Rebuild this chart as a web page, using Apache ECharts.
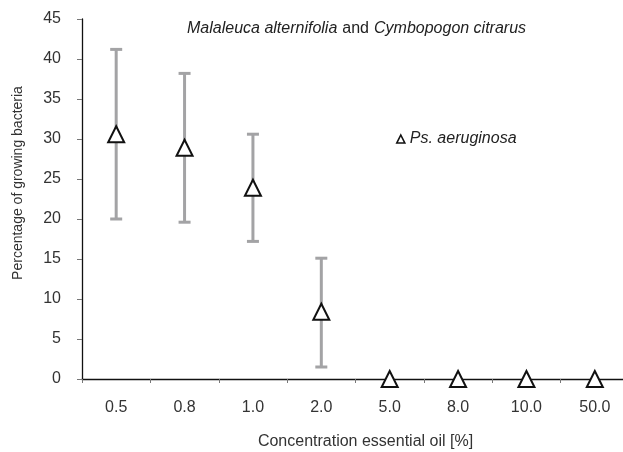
<!DOCTYPE html>
<html>
<head>
<meta charset="utf-8">
<style>html,body{margin:0;padding:0;background:#fff;}#chart{width:623px;height:452px;}</style>
<script src="https://cdn.jsdelivr.net/npm/echarts@6/dist/echarts.min.js"></script>
</head>
<body>
<div id="chart"></div>
<script>
var categories = ['0.5', '0.8', '1.0', '2.0', '5.0', '8.0', '10.0', '50.0'];
var values = [30.6, 28.9, 23.9, 8.4, 0, 0, 0, 0];
var errUpper = [41.2, 38.2, 30.6, 15.1, null, null, null, null];
var errLower = [20.0, 19.6, 17.2, 1.5, null, null, null, null];
var yTicks = [0, 5, 10, 15, 20, 25, 30, 35, 40, 45];

var errData = [];
for (var i = 0; i < categories.length; i++) {
  if (errUpper[i] != null) errData.push([i, errLower[i], errUpper[i]]);
}

var chart = echarts.init(document.getElementById('chart'), null, {renderer: 'canvas'});
var FONT = 'Liberation Sans, Arial, sans-serif';
chart.setOption({
  animation: false,
  backgroundColor: '#fff',
  textStyle: {fontFamily: FONT},
  grid: {left: 82, right: -6, top: 19, bottom: 73, containLabel: false, outerBoundsMode: 'none'},
  title: {
    text: '{i|Malaleuca alternifolia} {n|and} {i|Cymbopogon citrarus}',
    left: 182, top: 15,
    textStyle: {
      fontWeight: 'normal',
      rich: {
        i: {fontStyle: 'italic', fontWeight: 'normal', fontSize: 16, color: '#222', fontFamily: FONT},
        n: {fontWeight: 'normal', fontSize: 16, color: '#222', fontFamily: FONT}
      }
    }
  },
  legend: {
    left: 391, top: 126,
    itemWidth: 8, itemHeight: 8, itemGap: 8,
    icon: 'triangle',
    data: [{name: 'Ps. aeruginosa', itemStyle: {color: '#fff', borderColor: '#111', borderWidth: 1.6}}],
    textStyle: {fontStyle: 'italic', fontSize: 16, color: '#222', fontFamily: FONT}
  },
  xAxis: {
    type: 'category',
    data: categories,
    boundaryGap: true,
    name: 'Concentration essential oil [%]',
    nameLocation: 'middle',
    nameGap: 55,
    nameMoveOverlap: false,
    nameTextStyle: {fontSize: 16, color: '#333', fontFamily: FONT, padding: [0, 0, 0, 20]},
    axisLine: {lineStyle: {color: '#111', width: 1.3}},
    axisTick: {show: true, inside: false, length: 4, lineStyle: {color: '#777'}},
    axisLabel: {fontSize: 16, color: '#333', margin: 21, fontFamily: FONT},
    splitLine: {show: false}
  },
  yAxis: {
    type: 'value',
    min: yTicks[0], max: yTicks[yTicks.length - 1], interval: 5,
    name: 'Percentage of growing bacteria',
    nameLocation: 'middle',
    nameGap: 57,
    nameMoveOverlap: false,
    nameTextStyle: {fontSize: 14, color: '#333', fontFamily: FONT, padding: [0, 0, 0, 32]},
    axisLine: {show: true, lineStyle: {color: '#111', width: 1.3}},
    axisTick: {show: true, inside: false, length: 5, lineStyle: {color: '#777'}},
    axisLabel: {fontSize: 16, color: '#333', margin: 21, fontFamily: FONT},
    splitLine: {show: false}
  },
  series: [
    {
      type: 'custom',
      name: 'err',
      data: errData,
      z: 1,
      silent: true,
      renderItem: function (params, api) {
        var x = api.value(0);
        var lo = api.coord([x, api.value(1)]);
        var hi = api.coord([x, api.value(2)]);
        var half = 6;
        var style = {stroke: '#a3a3a5', lineWidth: 3, fill: null};
        return {
          type: 'group',
          children: [
            {type: 'line', shape: {x1: lo[0], y1: lo[1], x2: hi[0], y2: hi[1]}, style: style},
            {type: 'line', shape: {x1: hi[0] - half, y1: hi[1], x2: hi[0] + half, y2: hi[1]}, style: style},
            {type: 'line', shape: {x1: lo[0] - half, y1: lo[1], x2: lo[0] + half, y2: lo[1]}, style: style}
          ]
        };
      }
    },
    {
      type: 'scatter',
      name: 'Ps. aeruginosa',
      data: values,
      symbol: 'triangle',
      symbolSize: [16, 16],
      z: 5,
      clip: false,
      itemStyle: {color: '#fff', borderColor: '#111', borderWidth: 2, opacity: 1}
    }
  ]
});
</script>
</body>
</html>
